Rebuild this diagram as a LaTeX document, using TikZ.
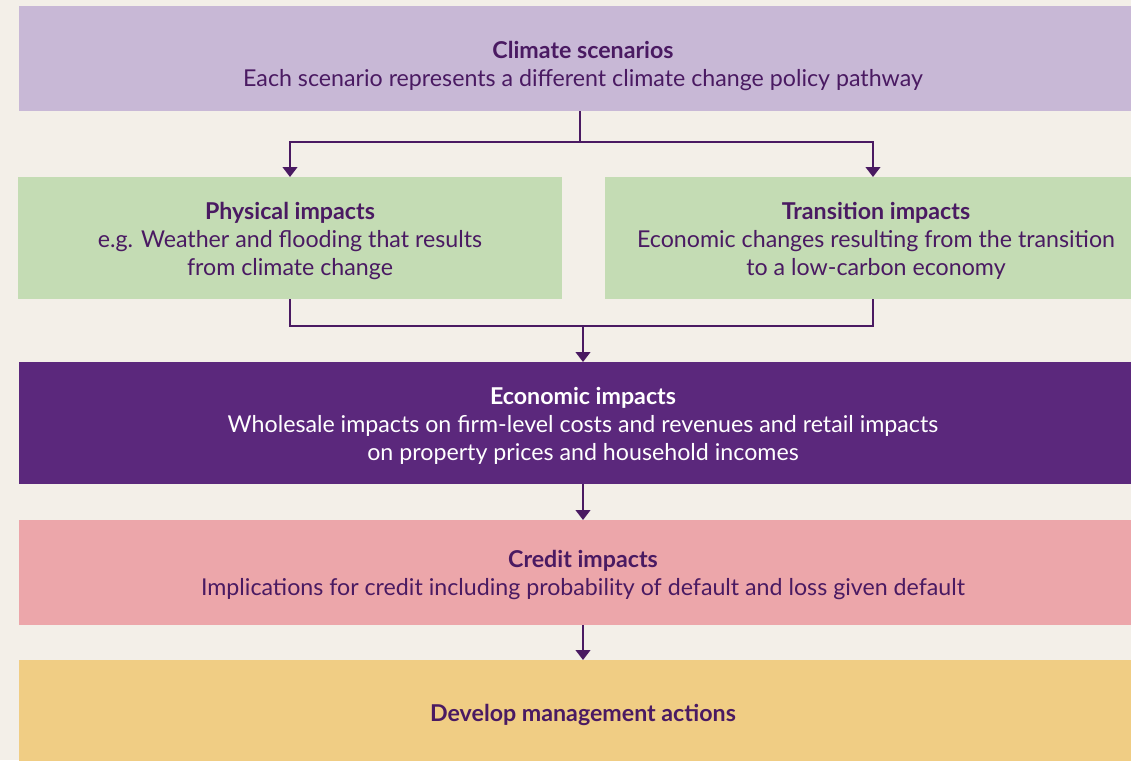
\documentclass[tikz,border=0pt]{standalone}
\usepackage{fontspec}
\setmainfont{Lato}
\usetikzlibrary{arrows.meta,calc}
\definecolor{bg}{HTML}{F3EFE8}
\definecolor{lav}{HTML}{C8B8D6}
\definecolor{grn}{HTML}{C4DCB4}
\definecolor{pur}{HTML}{5B287C}
\definecolor{pnk}{HTML}{ECA6AA}
\definecolor{ylw}{HTML}{F0CD84}
\definecolor{ink}{HTML}{4A1A62}
\begin{document}
\begin{tikzpicture}[x=0.75pt,y=-0.75pt,
  box/.style={draw=none,inner sep=0pt,outer sep=0pt},
  txt/.style={align=center,text=ink,font=\fontsize{17.4pt}{21pt}\selectfont,inner sep=0pt},
  conn/.style={draw=ink,line width=1.6pt},
  arr/.style={conn,-{Triangle[width=11pt,length=7.5pt]}}]
\fill[bg] (0,0) rectangle (1131,760);
\useasboundingbox (0,0) rectangle (1131,760);
% boxes
\node[box,fill=lav,minimum width=846pt,minimum height=78.75pt] (clim) at (583,58.5) {};
\node[box,fill=grn,minimum width=408pt,minimum height=91.5pt] (phys) at (290,238) {};
\node[box,fill=grn,minimum width=402pt,minimum height=91.5pt] (trans) at (873,238) {};
\node[box,fill=pur,minimum width=846pt,minimum height=91.5pt] (econ) at (583,423) {};
\node[box,fill=pnk,minimum width=846pt,minimum height=78.75pt] (cred) at (583,572.5) {};
\node[box,fill=ylw,minimum width=846pt,minimum height=78pt] (mgmt) at (583,712) {};
% texts
\node[txt] (climt) at (583,66) {\textbf{Climate scenarios}\\Each scenario represents a different climate change policy pathway};
\node[txt] (physt) at (290,241) {\textbf{Physical impacts}\\e.g. Weather and flooding that results\\from climate change};
\node[txt] (transt) at (876,241) {\textbf{Transition impacts}\\Economic changes resulting from the transition\\to a low-carbon economy};
\node[txt,text=white] (econt) at (583,426) {\textbf{Economic impacts}\\Wholesale impacts on firm-level costs and revenues and retail impacts\\on property prices and household incomes};
\node[txt] (credt) at (583,575) {\textbf{Credit impacts}\\Implications for credit including probability of default and loss given default};
\node[txt] (mgmtt) at (583,715) {\textbf{Develop management actions}};
% connectors
\coordinate (j1) at (580,142);
\coordinate (j2) at (583,326);
\draw[conn] (clim.south -| j1) -- (j1);
\draw[arr] (j1) -| (phys.north);
\draw[arr] (j1) -| (trans.north);
\draw[conn] (phys.south) |- (j2);
\draw[conn] (trans.south) |- (j2);
\draw[arr] (j2) -- (econ.north -| j2);
\draw[arr] (econ.south -| j2) -- (cred.north -| j2);
\draw[arr] (cred.south -| j2) -- (mgmt.north -| j2);
\end{tikzpicture}
\end{document}
